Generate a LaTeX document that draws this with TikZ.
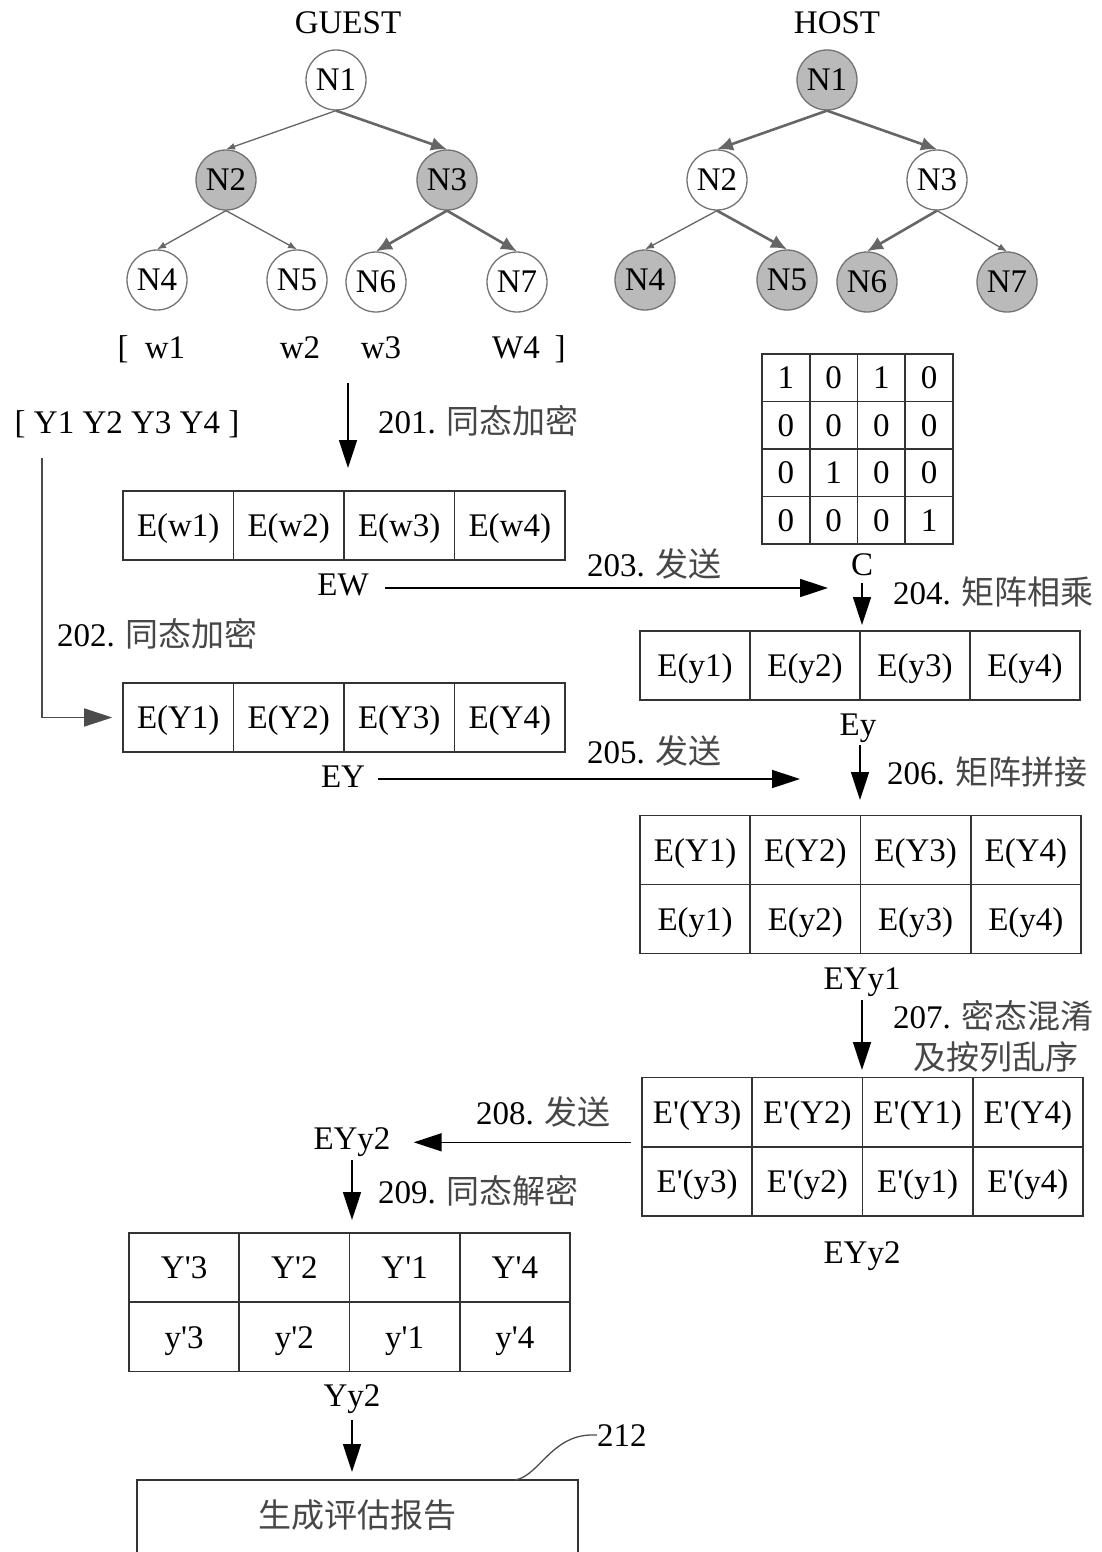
\documentclass[tikz,border=0pt]{standalone}
\usepackage{fontspec}
\setmainfont{Liberation Serif}
\newfontfamily\cjk{Noto Sans CJK SC}
\usetikzlibrary{arrows.meta,calc}
\newcommand\myq{\textquotesingle}
\newcommand\zhtext[1]{{\cjk\color{black!72}#1}}
\begin{document}
\begin{tikzpicture}[x=1pt,y=-1pt,
  every node/.style={font=\fontsize{33}{36}\selectfont},
  tn/.style={circle, draw=black!55, line width=1.3pt, minimum size=60pt, inner sep=0pt, fill=white},
  tng/.style={tn, fill=black!27},
  thinedge/.style={draw=black!60, line width=1.3pt, -{Latex[length=9pt,width=7pt]}},
  thickedge/.style={draw=black!60, line width=2.6pt, -{Latex[length=16pt,width=14pt]}},
  cell/.style={draw=black!80, line width=1.6pt, minimum width=110.5pt, minimum height=69pt, inner sep=0pt, text height=22pt, text depth=0pt},
  ccell/.style={cell, minimum width=47.75pt, minimum height=47.5pt},
  flow/.style={draw=black, line width=1.6pt, -{Triangle[length=28pt,width=18pt]}},
  flowg/.style={flow, draw=black!70},
  lbl/.style={inner sep=0pt, anchor=base},
  lblw/.style={inner sep=0pt, anchor=base west},
  leader/.style={draw=black!70, line width=1.3pt}
]
\useasboundingbox (0,0) rectangle (1102,1552);
\clip (0,0) rectangle (1102,1552);
\fill[white] (0,0) rectangle (1102,1552);

% ---------------- GUEST tree
\node[lbl] (guest) at (348,34) {GUEST};
\node[tn]  (g1) at (336,80) {N1};
\node[tng] (g2) at (226,180) {N2};
\node[tng] (g3) at (447,180) {N3};
\node[tn]  (g4) at (157,280) {N4};
\node[tn]  (g5) at (297,280) {N5};
\node[tn]  (g6) at (376,282) {N6};
\node[tn]  (g7) at (517,282) {N7};
\draw[thinedge]  (g1.south) -- (g2.north);
\draw[thickedge] (g1.south) -- (g3.north);
\draw[thinedge]  (g2.south) -- (g4.north);
\draw[thinedge]  (g2.south) -- (g5.north);
\draw[thickedge] (g3.south) -- (g6.north);
\draw[thickedge] (g3.south) -- (g7.north);

% ---------------- HOST tree
\node[lbl] (host) at (837,34) {HOST};
\node[tng] (h1) at (827,80) {N1};
\node[tn]  (h2) at (717,180) {N2};
\node[tn]  (h3) at (937,180) {N3};
\node[tng] (h4) at (645,280) {N4};
\node[tng] (h5) at (787,280) {N5};
\node[tng] (h6) at (867,282) {N6};
\node[tng] (h7) at (1007,282) {N7};
\draw[thickedge] (h1.south) -- (h2.north);
\draw[thickedge] (h1.south) -- (h3.north);
\draw[thinedge]  (h2.south) -- (h4.north);
\draw[thickedge] (h2.south) -- (h5.north);
\draw[thickedge] (h3.south) -- (h6.north);
\draw[thinedge]  (h3.south) -- (h7.north);

% ---------------- weights
\node[lbl] (wlb) at (123,358) {[};
\node[lbl] (w1) at (165,358) {w1};
\node[lbl] (w2) at (300,358) {w2};
\node[lbl] (w3) at (381,358) {w3};
\node[lbl] (w4) at (516,358) {W4};
\node[lbl] (wrb) at (560,358) {]};

\node[lbl] (ylist) at (127,433) {[ Y1 Y2 Y3 Y4 ]};

% ---------------- matrix C
\foreach \r [count=\i] in {{1,0,1,0},{0,0,0,0},{0,1,0,0},{0,0,0,1}} {
  \foreach \v [count=\j] in \r {
    \node[ccell] (m\i\j) at ({762+47.75*(\j-0.5)},{354+47.5*(\i-0.5)}) {\v};
  }
}
\node[lbl] (lC) at (862,575) {C};

% ---------------- EW
\foreach \t [count=\i] in {E(w1),E(w2),E(w3),E(w4)}
  \node[cell] (ew\i) at ({123+110.5*(\i-0.5)},525.5) {\t};
\node[lbl] (lEW) at (343,595) {EW};

% ---------------- EY
\foreach \t [count=\i] in {E(Y1),E(Y2),E(Y3),E(Y4)}
  \node[cell] (eY\i) at ({123+110.5*(\i-0.5)},717.5) {\t};
\node[lbl] (lEY) at (343,787) {EY};

% ---------------- Ey
\foreach \t [count=\i] in {E(y1),E(y2),E(y3),E(y4)}
  \node[cell, minimum width=110pt] (ey\i) at ({640+110*(\i-0.5)},665.5) {\t};
\node[lbl] (lEy) at (858,735) {Ey};

% ---------------- EYy1
\foreach \t [count=\i] in {E(Y1),E(Y2),E(Y3),E(Y4)}
  \node[cell, minimum width=110.25pt] (a\i) at ({640+110.25*(\i-0.5)},850) {\t};
\foreach \t [count=\i] in {E(y1),E(y2),E(y3),E(y4)}
  \node[cell, minimum width=110.25pt] (b\i) at ({640+110.25*(\i-0.5)},919) {\t};
\node[lbl] (lEYy1) at (862,989) {EYy1};

% ---------------- EYy2
\foreach \t [count=\i] in {E\myq(Y3),E\myq(Y2),E\myq(Y1),E\myq(Y4)}
  \node[cell, minimum width=110.25pt] (c\i) at ({642+110.25*(\i-0.5)},1112) {\t};
\foreach \t [count=\i] in {E\myq(y3),E\myq(y2),E\myq(y1),E\myq(y4)}
  \node[cell, minimum width=110.25pt] (d\i) at ({642+110.25*(\i-0.5)},1181.5) {\t};
\node[lbl] (lEYy2) at (862,1263) {EYy2};
\node[lbl] (lEYyL) at (352,1149) {EYy2};

% ---------------- Yy2
\foreach \t [count=\i] in {Y\myq3,Y\myq2,Y\myq1,Y\myq4}
  \node[cell, minimum width=110.25pt] (p\i) at ({129+110.25*(\i-0.5)},1267.5) {\t};
\foreach \t [count=\i] in {y\myq3,y\myq2,y\myq1,y\myq4}
  \node[cell, minimum width=110.25pt] (q\i) at ({129+110.25*(\i-0.5)},1337) {\t};
\node[lbl] (lYy2) at (352,1406) {Yy2};

% ---------------- report
\node[minimum width=441pt, minimum height=70pt, inner sep=0pt, anchor=north] (report) at (357.5,1480) {\zhtext{生成评估报告}};
\draw[draw=black!80, line width=1.6pt] ($(report.south west)+(0,60)$) |- (report.north east) -- ($(report.south east)+(0,60)$);
\node[lblw] (l212) at (597,1446) {212};
\coordinate (lead0) at (515,1480);
\draw[leader] (lead0) .. controls (540,1476) and (552,1432) .. (l212.west);

% ---------------- step labels
\node[lblw] (l201) at (378,433) {201. \zhtext{同态加密}};
\node[lblw] (l202) at (57,646) {202. \zhtext{同态加密}};
\node[lblw] (l203) at (587,576) {203. \zhtext{发送}};
\node[lblw] (l204) at (893,604) {204. \zhtext{矩阵相乘}};
\node[lblw] (l205) at (587,763) {205. \zhtext{发送}};
\node[lblw] (l206) at (887,784) {206. \zhtext{矩阵拼接}};
\node[lblw] (l207) at (893,1028) {207. \zhtext{密态混淆}};
\node[lblw] (l207b) at (913,1069) {\zhtext{及按列乱序}};
\node[lblw] (l208) at (476,1124) {208. \zhtext{发送}};
\node[lblw] (l209) at (378,1203) {209. \zhtext{同态解密}};

% ---------------- flow arrows
\coordinate (s201) at (348,383);
\coordinate (t201) at (348,468);
\draw[flow] (s201) -- (t201);

\coordinate (ys) at (42,458);
\draw[flowg] (ys) |- ($(eY1.west)+(-10,0)$);

\coordinate (t203) at (828,588);
\draw[flow] ($(lEW.east |- t203)+(16,0)$) -- (t203);

\coordinate (t204) at (862,625);
\draw[flow, shorten <=7pt] (lC.south) -- (t204);

\coordinate (t205) at (800,779);
\draw[flow] ($(lEY.east |- t205)+(13,0)$) -- (t205);

\coordinate (t206) at (860,800);
\draw[flow, shorten <=3pt] (lEy.south -| t206) -- (t206);

\coordinate (t207) at (862,1070);
\draw[flow, shorten <=4pt] (lEYy1.south) -- (t207);

\coordinate (s208) at ($(c1.south west)+(-10,-5)$);
\draw[flow, shorten >=23pt] (s208) -- (lEYyL.east |- s208);

\coordinate (t209) at (352,1220);
\draw[flow, shorten <=4pt] (lEYyL.south) -- (t209);

\coordinate (t210) at (352,1472);
\draw[flow, shorten <=7pt] (lYy2.south) -- (t210);
\end{tikzpicture}
\end{document}
